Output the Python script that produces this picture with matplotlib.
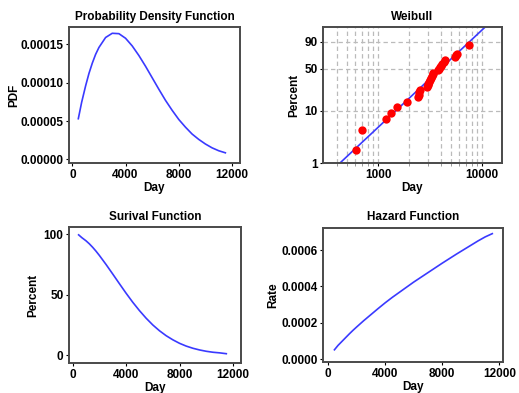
import numpy as np
import matplotlib
matplotlib.use('Agg')
import matplotlib.pyplot as plt
from matplotlib.ticker import FixedLocator, FuncFormatter, NullFormatter

plt.rcParams['font.family'] = ['Liberation Sans', 'DejaVu Sans']
plt.rcParams['font.weight'] = 'bold'
plt.rcParams['axes.labelweight'] = 'bold'
plt.rcParams['axes.titleweight'] = 'bold'

# ---- data ----
days = [450, 700, 1000, 1250, 1500, 1750, 2000, 2500, 3000, 3500, 4000, 4500, 5000,
        5500, 6000, 6500, 7000, 7500, 8000, 8500, 9000, 9500, 10000, 10500, 11000, 11500]
pdf_vals = [5.3e-5, 7.44e-5, 9.6e-5, 1.121e-4, 1.255e-4, 1.37e-4, 1.46e-4, 1.59e-4,
            1.645e-4, 1.64e-4, 1.58e-4, 1.48e-4, 1.355e-4, 1.215e-4, 1.065e-4, 9.15e-5,
            7.7e-5, 6.4e-5, 5.2e-5, 4.2e-5, 3.3e-5, 2.6e-5, 2.0e-5, 1.5e-5, 1.12e-5, 8.5e-6]
surv_pct = [99.5, 97.1, 94.6, 92.1, 89.2, 86.0, 82.5, 75.0, 67.1, 59.1, 51.2, 43.7,
            36.8, 30.5, 24.9, 20.1, 16.0, 12.6, 9.7, 7.4, 5.6, 4.2, 3.1, 2.3, 1.8, 1.1]
hazard_rate = [5.2e-5, 7.6e-5, 1.0e-4, 1.2e-4, 1.4e-4, 1.59e-4, 1.77e-4, 2.12e-4,
               2.45e-4, 2.78e-4, 3.1e-4, 3.4e-4, 3.68e-4, 3.96e-4, 4.24e-4, 4.5e-4,
               4.76e-4, 5.02e-4, 5.28e-4, 5.53e-4, 5.78e-4, 6.02e-4, 6.26e-4, 6.5e-4,
               6.72e-4, 6.9e-4]

fail_days = [614, 697, 1181, 1334, 1513, 1888, 2441, 2460, 2478, 2535, 2940, 2990,
             3046, 3100, 3162, 3220, 3283, 3340, 3404, 3800, 3870, 3945, 4050, 4150,
             4280, 4406, 5500, 5600, 5710, 7417]
fail_pct = [1.8, 4.4, 6.9, 9.2, 11.8, 14.5, 17.4, 19.5, 21.5, 23.6, 26.1, 28.0,
            29.7, 32.0, 34.4, 37.0, 40.0, 42.0, 43.8, 48.3, 50.3, 52.3, 55.0, 57.8,
            61.0, 64.3, 69.7, 72.0, 74.0, 87.0]
fit_days = [431, 10690]
fit_pct = [1.0, 98.9]

line_color = '#3a3aff'
spine_color = '#4a4a4a'
fs = 8.5

fig = plt.figure(figsize=(5.19, 3.93), dpi=100)

def style(ax):
    for s in ax.spines.values():
        s.set_color(spine_color)
        s.set_linewidth(1.4)
    ax.tick_params(labelsize=fs, length=2.5, width=0.8, pad=1.5, colors='black')
    for lab in ax.get_xticklabels() + ax.get_yticklabels():
        lab.set_fontweight('bold')

# PDF
ax1 = fig.add_axes([69/519, 1-163/393, 171/519, 136/393])
ax1.plot(days, pdf_vals, color=line_color, lw=1.2, solid_joinstyle='round')
ax1.set_xlim(-250, 12600)
ax1.set_ylim(-4.8e-6, 1.727e-4)
ax1.set_xticks([0, 4000, 8000, 12000])
ax1.set_yticks([0, 5e-5, 1e-4, 1.5e-4])
ax1.yaxis.set_major_formatter(FuncFormatter(lambda v, p: f"{v:.5f}"))
ax1.set_title('Probability Density Function', fontsize=fs, pad=5)
ax1.set_xlabel('Day', fontsize=fs, labelpad=1)
ax1.set_ylabel('PDF', fontsize=fs, labelpad=0)
style(ax1)

# Weibull probability plot
def fwd(p):
    p = np.clip(np.asarray(p, dtype=float), 1e-6, 100 - 1e-6)
    return np.log(-np.log(1 - p / 100.0))

def inv(v):
    return 100.0 * (1 - np.exp(-np.exp(v)))

ax2 = fig.add_axes([323/519, 1-163/393, 179/519, 136/393])
ax2.set_xscale('log')
ax2.set_yscale('function', functions=(fwd, inv))
ax2.set_xlim(296, 15500)
ax2.set_ylim(1, 98.9)
major_x = [1000, 10000]
minor_x = [400, 500, 600, 700, 800, 900, 2000, 3000, 4000, 5000, 6000, 7000, 8000, 9000]
ax2.xaxis.set_major_locator(FixedLocator(major_x))
ax2.xaxis.set_minor_locator(FixedLocator(minor_x))
ax2.xaxis.set_major_formatter(FuncFormatter(lambda v, p: f"{int(round(v))}"))
ax2.xaxis.set_minor_formatter(NullFormatter())
ax2.yaxis.set_major_locator(FixedLocator([1, 10, 50, 90]))
ax2.yaxis.set_major_formatter(FuncFormatter(lambda v, p: f"{int(round(v))}"))
ax2.yaxis.set_minor_locator(FixedLocator([]))
for xv in major_x + minor_x:
    ax2.axvline(xv, color='#bbbbbb', lw=0.9, ls=(0, (3.5, 2.5)), zorder=0)
for yv in [10, 50, 90]:
    ax2.axhline(yv, color='#bbbbbb', lw=0.9, ls=(0, (3.5, 2.5)), zorder=0)
ax2.plot(fit_days, fit_pct, color=line_color, lw=1.2, zorder=2)
ax2.plot(fail_days, fail_pct, 'o', color='#ff0000', ms=6, mec='none', zorder=3)
ax2.set_title('Weibull', fontsize=fs, pad=5)
ax2.set_xlabel('Day', fontsize=fs, labelpad=1)
ax2.set_ylabel('Percent', fontsize=fs, labelpad=3)
ax2.tick_params(which='minor', length=2, width=0.6, color='#888888')
style(ax2)

# Survival
ax3 = fig.add_axes([69/519, 1-363/393, 172/519, 136/393])
ax3.plot(days, surv_pct, color=line_color, lw=1.2, solid_joinstyle='round')
ax3.set_xlim(-270, 12600)
ax3.set_ylim(-6.6, 106)
ax3.set_xticks([0, 4000, 8000, 12000])
ax3.set_yticks([0, 50, 100])
ax3.set_title('Surival Function', fontsize=fs, pad=5)
ax3.set_xlabel('Day', fontsize=fs, labelpad=1)
ax3.set_ylabel('Percent', fontsize=fs, labelpad=3)
style(ax3)

# Hazard
ax4 = fig.add_axes([323/519, 1-362/393, 180/519, 134/393])
ax4.plot(days, hazard_rate, color=line_color, lw=1.2, solid_joinstyle='round')
ax4.set_xlim(-350, 12250)
ax4.set_ylim(-1.5e-5, 7.21e-4)
ax4.set_xticks([0, 4000, 8000, 12000])
ax4.set_yticks([0, 2e-4, 4e-4, 6e-4])
ax4.yaxis.set_major_formatter(FuncFormatter(lambda v, p: f"{v:.4f}"))
ax4.set_title('Hazard Function', fontsize=fs, pad=6)
ax4.set_xlabel('Day', fontsize=fs, labelpad=1)
ax4.set_ylabel('Rate', fontsize=fs, labelpad=1)
style(ax4)

fig.savefig('out.png', dpi=100)
